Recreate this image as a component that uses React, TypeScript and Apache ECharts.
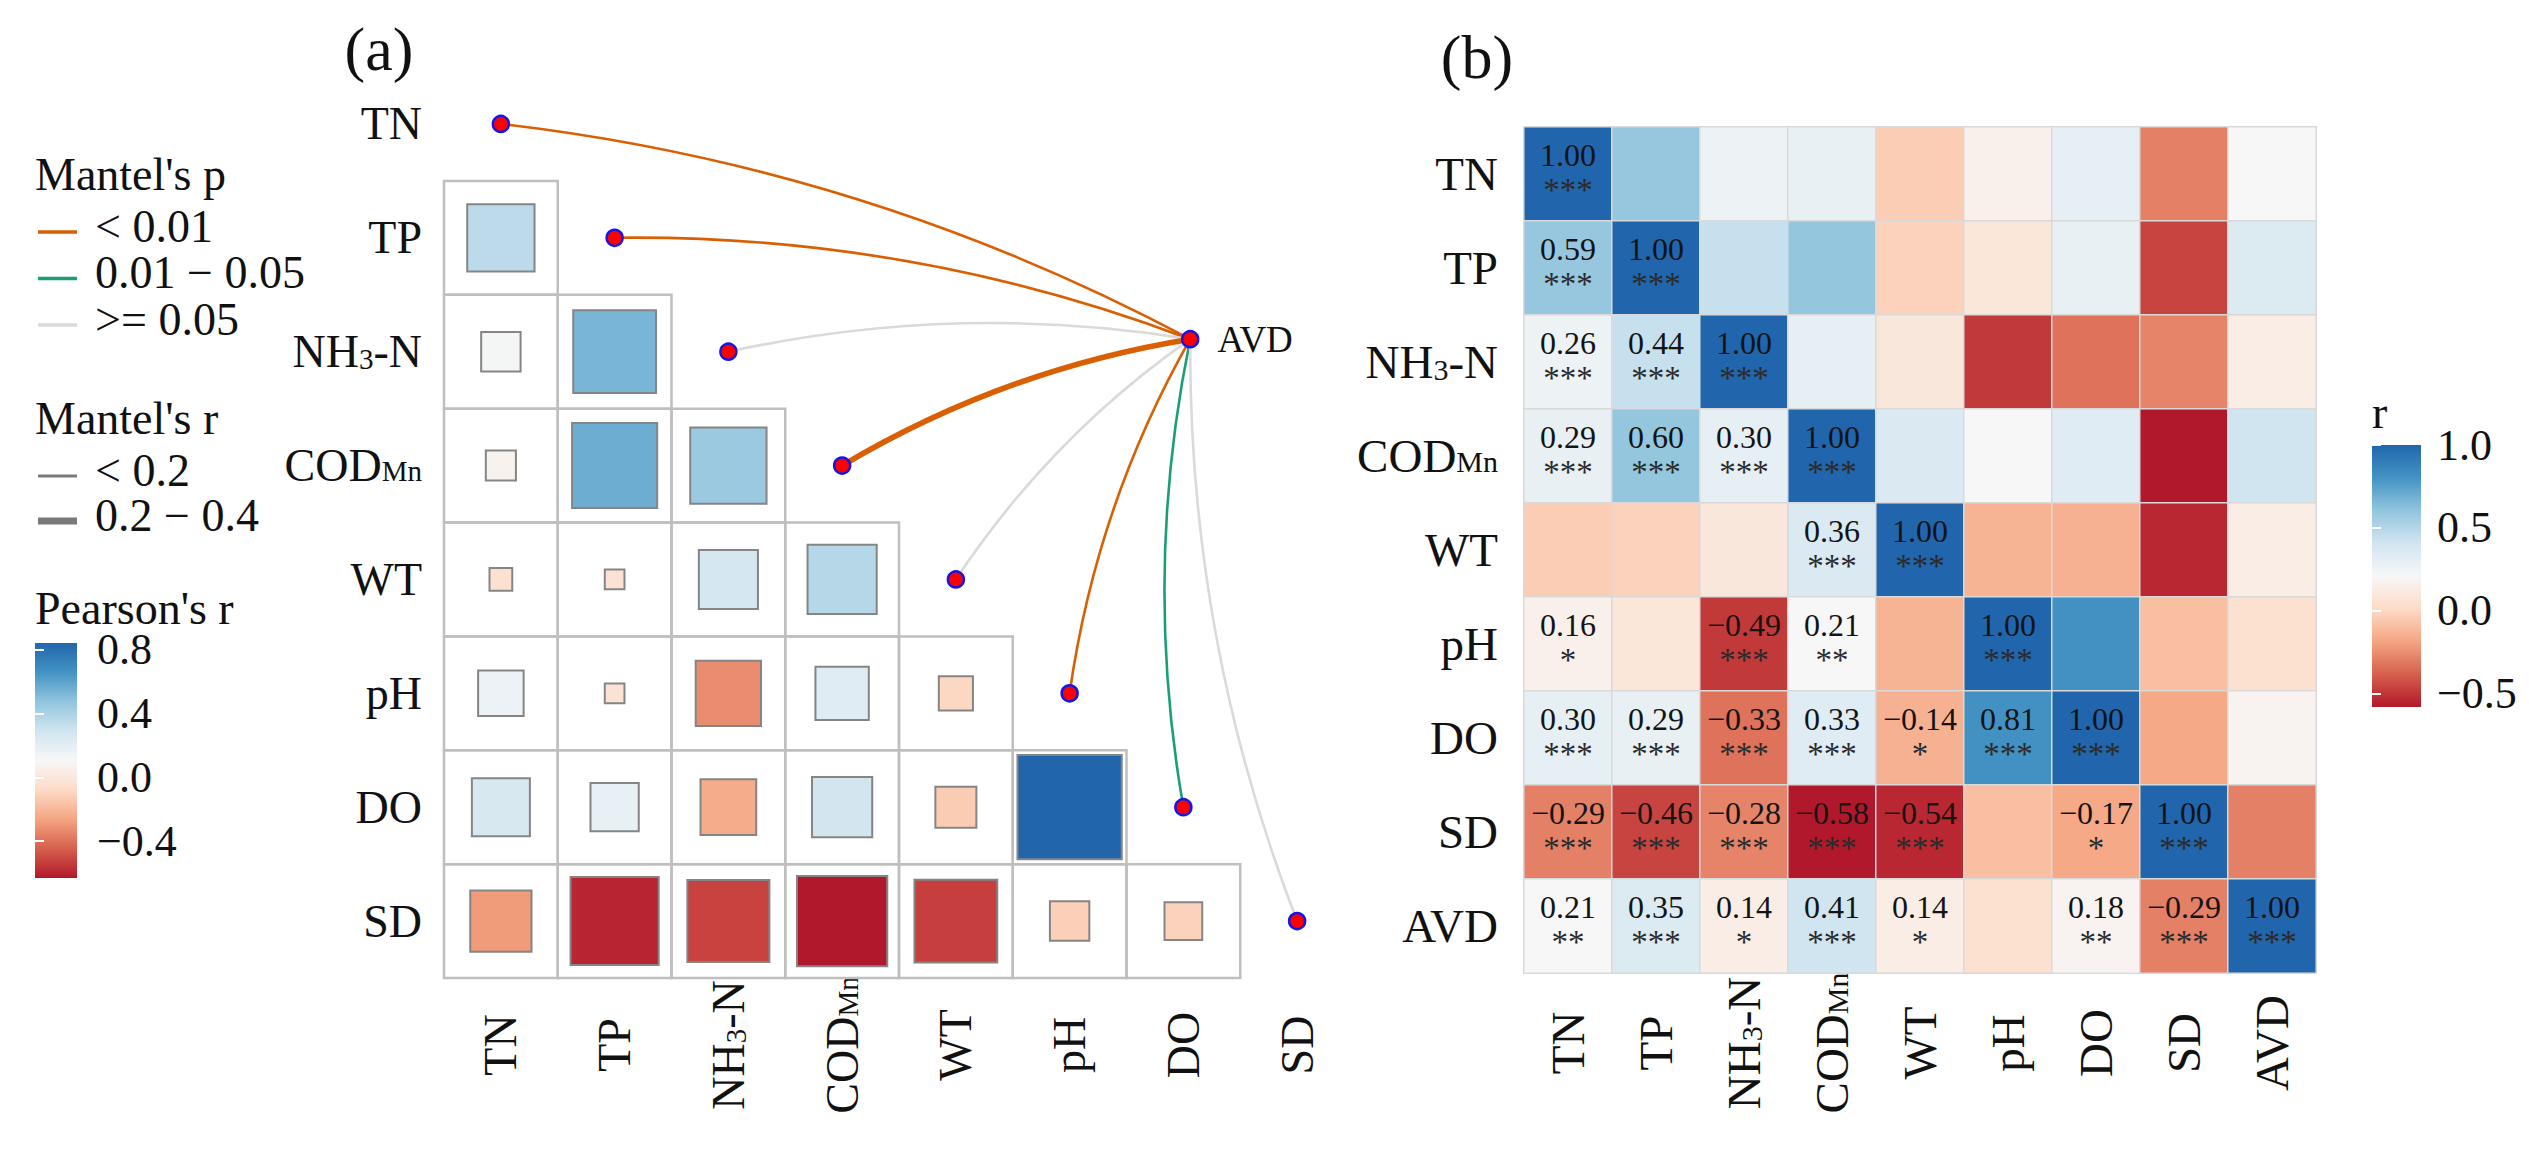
import React, { useEffect, useRef } from 'react';
import * as echarts from 'echarts';

const FONT = '"Liberation Serif", "Times New Roman", serif';
const TEXT = '#111111';

// ---------- data ----------
const ENV = ['TN', 'TP', 'NH3-N', 'CODMn', 'WT', 'pH', 'DO', 'SD'];
const VARS_B = ['TN', 'TP', 'NH3-N', 'CODMn', 'WT', 'pH', 'DO', 'SD', 'AVD'];

// Panel (a): Pearson's r, lower triangle, rows TP..SD, columns TN..
const PEARSON_A = [
  [0.35],
  [0.12, 0.53],
  [0.07, 0.56, 0.45],
  [-0.04, -0.03, 0.27, 0.37],
  [0.16, -0.03, -0.33, 0.22, -0.09],
  [0.26, 0.18, -0.24, 0.28, -0.13, 0.84],
  [-0.29, -0.6, -0.52, -0.63, -0.53, -0.12, -0.11],
];

// Mantel test of AVD against each environmental variable
const MANTEL_P = ['<0.01', '<0.01', '>=0.05', '<0.01', '>=0.05', '<0.01', '0.01-0.05', '>=0.05'];
const MANTEL_R = ['<0.2', '<0.2', '<0.2', '0.2-0.4', '<0.2', '<0.2', '<0.2', '<0.2'];
const AVD_NODE = [6.06, 1.89];

const P_LEVELS = ['<0.01', '0.01-0.05', '>=0.05'];
const P_LABELS = ['< 0.01', '0.01 \u2212 0.05', '>= 0.05'];
const P_COLORS = ['#D95F02', '#1B9E77', '#DADADA'];
const R_LEVELS = ['<0.2', '0.2-0.4'];
const R_LABELS = ['< 0.2', '0.2 \u2212 0.4'];
const R_WIDTHS = [2.6, 5.6];

// Panel (b): correlation matrix, lower triangle incl. diagonal
const CORR_B = [
  [1.0],
  [0.59, 1.0],
  [0.26, 0.44, 1.0],
  [0.29, 0.6, 0.3, 1.0],
  [-0.04, -0.02, 0.1, 0.36, 1.0],
  [0.16, 0.09, -0.49, 0.21, -0.13, 1.0],
  [0.3, 0.29, -0.33, 0.33, -0.14, 0.81, 1.0],
  [-0.29, -0.46, -0.28, -0.58, -0.54, -0.09, -0.17, 1.0],
  [0.21, 0.35, 0.14, 0.41, 0.14, 0.05, 0.18, -0.29, 1.0],
];
const STARS_B = [
  ['***'],
  ['***', '***'],
  ['***', '***', '***'],
  ['***', '***', '***', '***'],
  ['', '', '', '***', '***'],
  ['*', '', '***', '**', '', '***'],
  ['***', '***', '***', '***', '*', '***', '***'],
  ['***', '***', '***', '***', '***', '', '*', '***'],
  ['**', '***', '*', '***', '*', '', '**', '***', '***'],
];

const TICKS_A = [-0.4, 0, 0.4, 0.8];
const TICKS_B = [-0.5, 0, 0.5, 1.0];

const RDBU9 = ['#B2182B', '#D6604D', '#F4A582', '#FDDBC7', '#F7F7F7', '#D1E5F0', '#92C5DE', '#4393C3', '#2166AC'];

// ---------- helpers ----------
const flatA = PEARSON_A.flat();
const MIN_A = Math.min(...flatA);
const MAX_A = Math.max(...flatA);
const flatB = CORR_B.flat();
const MIN_B = Math.min(...flatB);
const MAX_B = Math.max(...flatB);

const minus = (s: string) => s.replace('-', '\u2212');
const fmt2 = (v: number) => minus(v.toFixed(2));
const fmt1 = (v: number) => minus((Math.abs(v) < 1e-9 ? 0 : v).toFixed(1));

const richName = (name: string) => {
  if (name === 'NH3-N') return '{n|NH}{sub|3}{n|-N}';
  if (name === 'CODMn') return '{n|COD}{mn|Mn}';
  return `{n|${name}}`;
};
const labelRich = (fs: number) => {
  const sf = Math.round(fs * 0.63);
  const drop = Math.round(0.3375 * (fs - sf) * 2);
  return {
    n: { fontSize: fs, fontFamily: FONT, color: TEXT, verticalAlign: 'middle' },
    sub: { fontSize: sf, fontFamily: FONT, color: TEXT, verticalAlign: 'middle', padding: [drop + 4, 0, 0, 0] },
    mn: { fontSize: sf, fontFamily: FONT, color: TEXT, verticalAlign: 'middle', padding: [drop, 0, 0, 0] },
  };
};

const gradientStops = () =>
  RDBU9.map((c, k) => ({ offset: k / (RDBU9.length - 1), color: RDBU9[RDBU9.length - 1 - k] }));

function buildOption() {
  // panel (a) cells
  const cellsA: number[][] = [];
  PEARSON_A.forEach((row, ri) => {
    row.forEach((r, ci) => cellsA.push([ci, ri + 1, r]));
  });

  // panel (b) cells
  const cellsB: any[] = [];
  for (let i = 0; i < VARS_B.length; i++) {
    for (let j = 0; j < VARS_B.length; j++) {
      const v = i >= j ? CORR_B[i][j] : CORR_B[j][i];
      const show = i >= j && STARS_B[i][j] !== '';
      cellsB.push({ value: [j, i, v], label: { show } });
    }
  }

  const links = ENV.map((name, i) => {
    const pi = P_LEVELS.indexOf(MANTEL_P[i]);
    const wi = R_LEVELS.indexOf(MANTEL_R[i]);
    return {
      coords: [[i, i], AVD_NODE],
      lineStyle: { color: P_COLORS[pi], width: R_WIDTHS[wi] },
    };
  });

  const nodes: any[] = ENV.map((name, i) => ({ name, value: [i, i] }));
  nodes.push({
    name: 'AVD',
    value: AVD_NODE,
    label: {
      show: true,
      position: 'right',
      distance: 18,
      formatter: 'AVD',
      fontSize: 37,
      fontFamily: FONT,
      color: TEXT,
    },
  });

  const catAxisCommon = {
    axisLine: { show: false },
    axisTick: { show: false },
    splitLine: { show: false },
  };

  const cbRender = (min: number, max: number) => (params: any, api: any) => {
    const p0 = api.coord([0, max]);
    const p1 = api.coord([1, min]);
    return {
      type: 'rect',
      shape: { x: p0[0], y: p0[1], width: p1[0] - p0[0], height: p1[1] - p0[1] },
      style: { fill: new echarts.graphic.LinearGradient(0, 0, 0, 1, gradientStops()) },
    };
  };

  const cbTickAxis = (gridIndex: number, min: number, max: number, ticks: number[], pos: string, labels: boolean, margin: number) => ({
    type: 'value',
    gridIndex,
    min,
    max,
    position: pos,
    z: 10,
    axisLine: { show: false },
    splitLine: { show: false },
    axisTick: {
      show: true,
      inside: true,
      length: 9,
      lineStyle: { color: '#FFFFFF', width: 2 },
      customValues: ticks,
    },
    axisLabel: {
      show: labels,
      customValues: ticks,
      formatter: (v: number) => fmt1(v),
      fontSize: 44,
      lineHeight: 44,
      fontFamily: FONT,
      color: TEXT,
      margin,
    },
  });

  // legend graphics (panel a)
  const legend: any[] = [];
  const txt = (text: string, x: number, y: number, fs: number, align = 'left') => ({
    type: 'text',
    x,
    y,
    style: {
      text,
      fontSize: fs,
      lineHeight: Math.round(fs * 0.9),
      fontFamily: FONT,
      fill: TEXT,
      align,
      verticalAlign: 'middle',
    },
  });
  legend.push(txt('(a)', 379, 49, 62, 'center'));
  legend.push(txt('(b)', 1477, 57, 62, 'center'));
  legend.push(txt("Mantel's p", 35, 174, 46));
  P_LABELS.forEach((lab, k) => {
    const ly = 232 + k * 46.5;
    legend.push({ type: 'line', shape: { x1: 38, y1: ly, x2: 77, y2: ly }, style: { stroke: P_COLORS[k], lineWidth: 3.5 } });
    legend.push(txt(lab, 95, ly - 6, 46));
  });
  legend.push(txt("Mantel's r", 35, 418, 46));
  R_LABELS.forEach((lab, k) => {
    const ly = 476 + k * 45;
    legend.push({ type: 'line', shape: { x1: 38, y1: ly, x2: 77, y2: ly }, style: { stroke: '#7A7A7A', lineWidth: k === 0 ? 3 : 7 } });
    legend.push(txt(lab, 95, ly - 6, 46));
  });
  legend.push(txt("Pearson's r", 35, 608, 46));
  legend.push(txt('r', 2372, 412, 46));

  return {
    animation: false,
    backgroundColor: '#FFFFFF',
    textStyle: { fontFamily: FONT },
    grid: [
      { left: 444, top: 67, width: 910, height: 911, outerBoundsMode: 'none', containLabel: false },
      { left: 1524, top: 127, width: 792, height: 846, outerBoundsMode: 'none', containLabel: false },
      { left: 35, top: 643, width: 42, height: 235, outerBoundsMode: 'none', containLabel: false },
      { left: 2372, top: 445, width: 49, height: 262, outerBoundsMode: 'none', containLabel: false },
    ],
    xAxis: [
      { type: 'value', gridIndex: 0, min: -0.5, max: 7.5, show: false, position: 'top' },
      {
        type: 'category',
        gridIndex: 0,
        data: ENV,
        position: 'bottom',
        ...catAxisCommon,
        axisLabel: {
          interval: 0,
          rotate: 90,
          align: 'center',
          verticalAlign: 'middle',
          margin: 67,
          formatter: richName,
          rich: labelRich(46),
        },
      },
      {
        type: 'category',
        gridIndex: 1,
        data: VARS_B,
        position: 'bottom',
        ...catAxisCommon,
        axisLabel: {
          interval: 0,
          rotate: 90,
          align: 'center',
          verticalAlign: 'middle',
          margin: 70,
          formatter: richName,
          rich: labelRich(47),
        },
      },
      { type: 'value', gridIndex: 2, min: 0, max: 1, show: false },
      { type: 'value', gridIndex: 3, min: 0, max: 1, show: false },
    ],
    yAxis: [
      { type: 'value', gridIndex: 0, min: -0.5, max: 7.5, inverse: true, show: false, position: 'right' },
      {
        type: 'category',
        gridIndex: 0,
        data: ENV,
        inverse: true,
        position: 'left',
        ...catAxisCommon,
        axisLabel: { interval: 0, margin: 22, formatter: richName, rich: labelRich(46) },
      },
      {
        type: 'category',
        gridIndex: 1,
        data: VARS_B,
        inverse: true,
        position: 'left',
        ...catAxisCommon,
        axisLabel: { interval: 0, margin: 26, formatter: richName, rich: labelRich(47) },
      },
      cbTickAxis(2, MIN_A, MAX_A, TICKS_A, 'right', true, 20),
      cbTickAxis(2, MIN_A, MAX_A, TICKS_A, 'left', false, 8),
      cbTickAxis(3, MIN_B, MAX_B, TICKS_B, 'right', true, 16),
      cbTickAxis(3, MIN_B, MAX_B, TICKS_B, 'left', false, 8),
    ],
    visualMap: [
      { type: 'continuous', show: false, min: MIN_A, max: MAX_A, dimension: 2, seriesIndex: 0, inRange: { color: RDBU9 } },
      { type: 'continuous', show: false, min: MIN_B, max: MAX_B, dimension: 2, seriesIndex: 3, inRange: { color: RDBU9 } },
    ],
    graphic: legend,
    series: [
      {
        type: 'custom',
        xAxisIndex: 0,
        yAxisIndex: 0,
        z: 2,
        data: cellsA,
        renderItem: (params: any, api: any) => {
          const x = api.value(0);
          const y = api.value(1);
          const r = api.value(2);
          const c = api.coord([x, y]);
          const s = api.size([1, 1]);
          const side = Math.sqrt(Math.abs(r)) * Math.min(s[0], s[1]);
          return {
            type: 'group',
            children: [
              {
                type: 'rect',
                shape: { x: c[0] - s[0] / 2, y: c[1] - s[1] / 2, width: s[0], height: s[1] },
                style: { fill: 'none', stroke: '#BFBFBF', lineWidth: 2.5 },
              },
              {
                type: 'rect',
                shape: { x: c[0] - side / 2, y: c[1] - side / 2, width: side, height: side },
                style: { fill: api.visual('color'), stroke: '#858585', lineWidth: 2 },
              },
            ],
          };
        },
      },
      {
        type: 'lines',
        coordinateSystem: 'cartesian2d',
        xAxisIndex: 0,
        yAxisIndex: 0,
        z: 3,
        lineStyle: { curveness: 0.095, opacity: 1 },
        data: links,
        silent: true,
      },
      {
        type: 'scatter',
        xAxisIndex: 0,
        yAxisIndex: 0,
        z: 4,
        symbol: 'circle',
        symbolSize: 16,
        itemStyle: { color: '#FF0000', borderColor: '#1515E8', borderWidth: 2.5, opacity: 1 },
        label: { show: false },
        data: nodes,
        silent: true,
      },
      {
        type: 'heatmap',
        xAxisIndex: 2,
        yAxisIndex: 2,
        data: cellsB,
        itemStyle: { borderColor: '#D9D9D9', borderWidth: 1.5 },
        emphasis: { disabled: true },
        label: {
          show: true,
          offset: [0, -4],
          formatter: (p: any) => {
            const [j, i, v] = p.value;
            const st = i >= j ? STARS_B[i][j] : '';
            return `{v|${fmt2(v)}}\n{s|${st}}`;
          },
          rich: {
            v: { fontSize: 32, fontFamily: FONT, color: '#141414', lineHeight: 40, align: 'center' },
            s: { fontSize: 33, fontFamily: FONT, color: '#2A2A2A', lineHeight: 30, align: 'center' },
          },
        },
      },
      {
        type: 'custom',
        xAxisIndex: 3,
        yAxisIndex: 3,
        z: 2,
        data: [[0, 0]],
        renderItem: cbRender(MIN_A, MAX_A),
        silent: true,
      },
      {
        type: 'custom',
        xAxisIndex: 4,
        yAxisIndex: 5,
        z: 2,
        data: [[0, 0]],
        renderItem: cbRender(MIN_B, MAX_B),
        silent: true,
      },
    ],
  };
}

export default function App() {
  const ref = useRef<HTMLDivElement>(null);
  useEffect(() => {
    document.body.style.margin = '0';
    const chart = echarts.init(ref.current as HTMLDivElement, null, { renderer: 'svg' });
    chart.setOption(buildOption() as any);
    return () => chart.dispose();
  }, []);
  return (
    <div
      ref={ref}
      style={{ position: 'absolute', left: 0, top: 0, width: 2529, height: 1168, background: '#FFFFFF' }}
    />
  );
}
